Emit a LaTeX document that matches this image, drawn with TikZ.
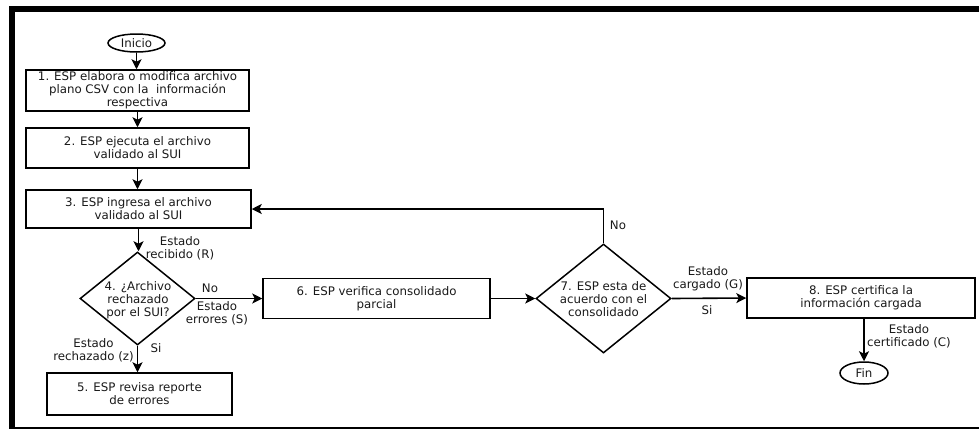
\documentclass[tikz,border=0pt]{standalone}
\usepackage{fontspec}
\setmainfont{DejaVu Sans}
\usetikzlibrary{shapes.geometric,arrows.meta}
\begin{document}
\begin{tikzpicture}[x=1pt,y=-1pt,
  every node/.style={font=\fontsize{11.8}{13}\selectfont, text=black!90},
  proc/.style={draw, line width=1.5pt, rectangle, align=center, inner sep=1pt},
  term/.style={draw, line width=1.5pt, ellipse, inner sep=0pt},
  decis/.style={draw, line width=1.5pt, diamond, inner sep=0pt},
  lbl/.style={align=center, inner sep=0pt},
  flow/.style={line width=1.6pt, -{Stealth[length=10pt,width=10pt,inset=2.5pt]}}]
\useasboundingbox (0,0) rectangle (979,429);
% frame
\fill (9,6) rectangle (979,12);
\fill (9,6) rectangle (15,429);
\draw[line width=1.2pt] (15,428) -- (979,428);
% nodes
\node[term, minimum width=57pt, minimum height=18pt] (inicio) at (136.5,43) {Inicio};
\node[proc, minimum width=223pt, minimum height=41pt] (b1) at (137.5,90.5) {1. ESP elabora o modifica archivo\\plano CSV con la\ \ información\\respectiva};
\node[proc, minimum width=223pt, minimum height=40pt] (b2) at (137.5,148) {2. ESP ejecuta el archivo\\validado al SUI};
\node[proc, minimum width=225pt, minimum height=38pt] (b3) at (138.5,209) {3. ESP ingresa el archivo\\validado al SUI};
\node[decis, minimum width=115pt, minimum height=93pt] (d4) at (137.5,298.5) {};
\node[lbl] (d4t) at (138,300) {4. ¿Archivo\\rechazado\\por el SUI?};
\node[proc, minimum width=185pt, minimum height=42pt] (b5) at (139.5,394) {5. ESP revisa reporte\\de errores};
\node[proc, minimum width=227pt, minimum height=40pt] (b6) at (376.5,298.5) {6. ESP verifica consolidado\\parcial};
\node[decis, minimum width=135pt, minimum height=109pt] (d7) at (603.5,298.5) {};
\node[lbl] (d7t) at (603.5,299) {7. ESP esta de\\acuerdo con el\\consolidado};
\node[proc, minimum width=228pt, minimum height=40pt] (b8) at (861,298) {8. ESP certifica la\\información cargada};
\node[term, minimum width=48pt, minimum height=22pt] (fin) at (864,373) {Fin};
\coordinate (ret) at (603.5,209);
% connectors
\draw[flow] (inicio.south) -- (inicio.south |- b1.north);
\draw[flow] (b1) -- (b2);
\draw[flow] (b2.south) -- (b2.south |- b3.north);
\draw[flow] (b3.south) -- (b3.south |- d4.north);
\draw[flow] (d4.east) -- (b6.west);
\draw[flow] (d4.south) -- (d4.south |- b5.north);
\draw[flow] (b6.east) -- (d7.west);
\draw[flow] (d7.east) -- (b8.west);
\draw[flow] (b8.south -| fin.north) -- (fin.north);
\draw[flow] (d7.north) -- (ret) -- (b3.east);
% labels
\node[lbl] (l1) at (180,248) {Estado\\recibido (R)};
\node[lbl] (l2) at (210,288) {No};
\node[lbl] (l3) at (217,313) {Estado\\errores (S)};
\node[lbl] (l4) at (93.5,350) {Estado\\rechazado (z)};
\node[lbl] (l5) at (156,348) {Si};
\node[lbl] (l6) at (618,225) {No};
\node[lbl] (l7) at (708,279) {Estado\\cargado (G)};
\node[lbl] (l8) at (707,310) {Si};
\node[lbl] (l9) at (909,336) {Estado\\certificado (C)};
\end{tikzpicture}
\end{document}
